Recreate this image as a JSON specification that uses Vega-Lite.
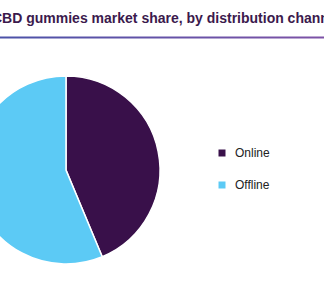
{
  "$schema": "https://vega.github.io/schema/vega-lite/v6.json",
  "width": 324,
  "height": 252,
  "autosize": {"type": "none"},
  "padding": {"top": 37, "left": 0, "right": 0, "bottom": 0},
  "background": "white",
  "title": {
    "text": "CBD gummies market share, by distribution channel",
    "anchor": "start",
    "frame": "group",
    "dx": -8,
    "offset": 11,
    "font": "Liberation Sans",
    "fontSize": 14,
    "fontWeight": "bold",
    "color": "#3b1a4d"
  },
  "config": {
    "view": {"stroke": null},
    "legend": {
      "orient": "none",
      "legendX": 216,
      "legendY": 110,
      "title": null,
      "symbolType": "square",
      "symbolSize": 49,
      "symbolStrokeWidth": 0,
      "labelFont": "Liberation Sans",
      "labelFontSize": 12,
      "labelColor": "#222222",
      "labelOffset": 7,
      "rowPadding": 20,
      "padding": 0
    }
  },
  "layer": [
    {
      "data": {"values": [
        {"channel": "Online", "share": 43.7},
        {"channel": "Offline", "share": 56.3}
      ]},
      "mark": {"type": "arc", "outerRadius": 94, "stroke": "white", "strokeWidth": 1.5},
      "encoding": {
        "theta": {"field": "share", "type": "quantitative", "stack": true},
        "order": {"field": "share", "sort": "ascending"},
        "color": {
          "field": "channel",
          "type": "nominal",
          "scale": {"domain": ["Online", "Offline"], "range": ["#39104a", "#5ccaf5"]}
        },
        "x": {"datum": 66, "type": "quantitative", "scale": {"domain": [0, 324], "nice": false, "zero": false}, "axis": null},
        "y": {"datum": 119, "type": "quantitative", "scale": {"domain": [0, 252], "nice": false, "zero": false}, "axis": null}
      }
    },
    {
      "data": {"values": [{}]},
      "mark": {"type": "rect", "fill": {"gradient": "linear", "stops": [{"offset": 0, "color": "#4b52a8"}, {"offset": 1, "color": "#7d52a6"}]}},
      "encoding": {
        "x": {"datum": 0, "type": "quantitative", "scale": {"domain": [0, 324], "nice": false, "zero": false}, "axis": null},
        "x2": {"datum": 324},
        "y": {"datum": 250.5, "type": "quantitative", "scale": {"domain": [0, 252], "nice": false, "zero": false}, "axis": null},
        "y2": {"datum": 252.5}
      }
    }
  ]
}
